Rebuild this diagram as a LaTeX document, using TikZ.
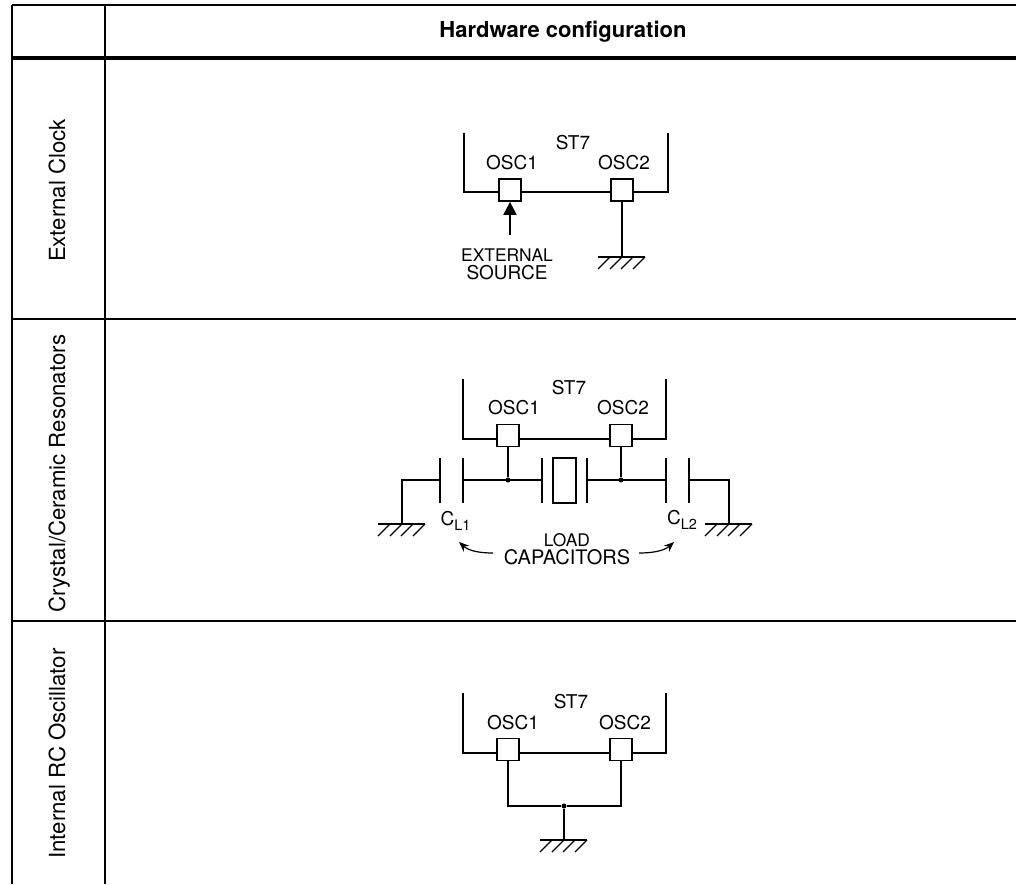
\documentclass[tikz,border=0pt]{standalone}
\usepackage{fontspec}
\setmainfont{TeX Gyre Heros}
\usetikzlibrary{arrows.meta}
\newcommand{\fs}[1]{\fontsize{#1}{#1}\selectfont}
\tikzset{
  x=1pt,y=-1pt,
  wire/.style={draw=black,line width=2.2pt},
  grid/.style={draw=black,line width=2pt},
  heavy/.style={draw=black,line width=4pt},
  pin/.style={draw=black,fill=white,line width=1.8pt,minimum size=22pt,inner sep=0pt},
  lab/.style={inner sep=0pt,text=black,font=\fs{19}},
  sm/.style={inner sep=0pt,text=black,font=\fs{17.4}},
  side/.style={inner sep=0pt,text=black,rotate=90,anchor=base,font=\fs{22.2}},
  dot/.style={circle,fill=black,inner sep=0pt,minimum size=5pt},
  leader/.style={black,line width=1.2pt,-{Stealth[length=10pt,width=8pt]}},
}
\newcommand{\gnd}[1]{%
  \draw[wire] ([xshift=-24pt]#1) -- ([xshift=23pt]#1);
  \foreach \d in {-12,0,11,23}
    \draw[black,line width=1.1pt] ([xshift=\d pt]#1) -- ++(-12,12);
}
\begin{document}
\begin{tikzpicture}
\path[use as bounding box] (0,0) rectangle (1016,884);
% table
\coordinate (tl) at (12,5); \coordinate (tr) at (1016,5);
\coordinate (bl) at (12,884); \coordinate (cb) at (105,884); \coordinate (ct) at (105,5);
\coordinate (h1) at (12,58); \coordinate (h2) at (1016,58);
\coordinate (r1a) at (12,319); \coordinate (r1b) at (1016,319);
\coordinate (r2a) at (12,621); \coordinate (r2b) at (1016,621);
\draw[grid] (tl) -- (tr);
\draw[grid] (tl) -- (bl);
\draw[grid] (ct) -- (cb);
\draw[heavy] (h1) -- (h2);
\draw[grid] (r1a) -- (r1b);
\draw[grid] (r2a) -- (r2b);
\node[inner sep=0pt,anchor=base,font=\fs{22}\bfseries] (hdr) at (563,37) {Hardware configuration};
\node[side] (s1) at (65,190.5) {External Clock};
\node[side] (s2) at (65,473.5) {Crystal/Ceramic Resonators};
\node[side] (s3) at (65,753.5) {Internal RC Oscillator};

% --- External clock
\coordinate (a1) at (464,133); \coordinate (a2) at (464,192);
\coordinate (a3) at (668,192); \coordinate (a4) at (668,133);
\draw[wire,line join=miter] (a1) -- (a2) -- (a3) -- (a4);
\node[pin] (ap1) at (510,190) {};
\node[pin] (ap2) at (622,190) {};
\node[lab] (ast) at (573,143) {ST7};
\node[lab] (al1) at (512,163) {OSC1};
\node[lab] (al2) at (624,163) {OSC2};
\coordinate (ag) at (622,257);
\draw[wire] (ap2.south) -- (ag);
\gnd{ag}
\coordinate (asrc) at (510,235);
\draw[wire,-{Triangle[length=13pt,width=13pt]}] (asrc) -- (ap1.south);
\node[sm] (ae) at (507,255) {EXTERNAL};
\node[lab] (as) at (507,273) {SOURCE};

% --- Crystal
\coordinate (b1) at (463,379); \coordinate (b2) at (463,439);
\coordinate (b3) at (666,439); \coordinate (b4) at (666,379);
\draw[wire] (b1) -- (b2) -- (b3) -- (b4);
\node[pin] (bp1) at (508,435.5) {};
\node[pin] (bp2) at (621,435.5) {};
\node[lab] (bst) at (569,388) {ST7};
\node[lab] (bl1) at (514,408) {OSC1};
\node[lab] (bl2) at (623,408) {OSC2};
\node[dot] (bj1) at (508,480) {};
\node[dot] (bj2) at (621,480) {};
\draw[wire] (bp1.south) -- (bj1);
\draw[wire] (bp2.south) -- (bj2);
% capacitor and crystal plates
\foreach \n/\x in {c1a/440,c1b/463,xa/542,xb/587,c2a/666,c2b/689}{
  \coordinate (\n t) at (\x,458);
  \coordinate (\n m) at (\x,480);
  \coordinate (\n e) at (\x,503);
  \draw[wire] (\n t) -- (\n e);
}
\node[draw=black,line width=1.8pt,minimum width=23pt,minimum height=45pt,inner sep=0pt] (xtal) at (564.5,480.5) {};
\draw[wire] (c1bm) -- (xam);
\draw[wire] (xbm) -- (c2am);
\coordinate (lg) at (402,524);
\coordinate (rg) at (729,524);
\draw[wire] (c1am) -| (lg);
\draw[wire] (c2bm) -| (rg);
\gnd{lg}
\gnd{rg}
\node[inner sep=0pt,text=black,font=\fs{19}] (cl1) at (455.5,521) {C\raisebox{-5pt}{\fs{14.5}L1}};
\node[inner sep=0pt,text=black,font=\fs{19}] (cl2) at (682,519.5) {C\raisebox{-5pt}{\fs{14.5}L2}};
\node[sm] (ll) at (567,540) {LOAD};
\node[inner sep=0pt,text=black,font=\fs{20}] (lc) at (567,557) {CAPACITORS};
\coordinate (at1) at (459,542); \coordinate (at2) at (674,542);
\coordinate (af1) at (493,553); \coordinate (af2) at (639,553);
\draw[leader] (af1) .. controls (480,553) and (469,551) .. (at1);
\draw[leader] (af2) .. controls (652,553) and (664,551) .. (at2);

% --- Internal RC
\coordinate (d1) at (463,693); \coordinate (d2) at (463,753);
\coordinate (d3) at (666,753); \coordinate (d4) at (666,693);
\draw[wire] (d1) -- (d2) -- (d3) -- (d4);
\node[pin] (dp1) at (508,749.5) {};
\node[pin] (dp2) at (621,749.5) {};
\node[lab] (dst) at (571,702) {ST7};
\node[lab] (dl1) at (513,723) {OSC1};
\node[lab] (dl2) at (625,723) {OSC2};
\node[dot] (dj) at (564,806) {};
\draw[wire] (dp1.south) |- (dj);
\draw[wire] (dp2.south) |- (dj);
\coordinate (dg) at (564,840);
\draw[wire] (dj) -- (dg);
\gnd{dg}
\end{tikzpicture}
\end{document}
